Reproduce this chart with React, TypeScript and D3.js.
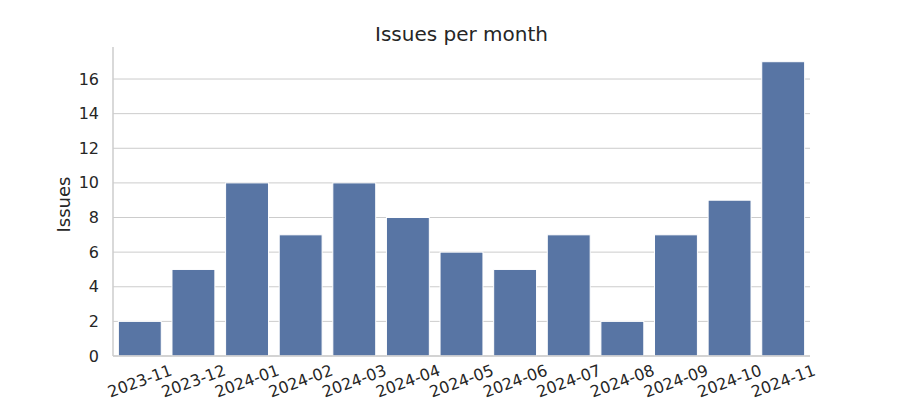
import React from "react";
import * as d3 from "d3";

const months = ["2023-11","2023-12","2024-01","2024-02","2024-03","2024-04","2024-05","2024-06","2024-07","2024-08","2024-09","2024-10","2024-11"];
const issues = [2,5,10,7,10,8,6,5,7,2,7,9,17];
const yTicks = [0,2,4,6,8,10,12,14,16];

const W = 900, H = 400;
const M = { left: 113, right: 810, top: 47, bottom: 356 };
const FONT = "DejaVu Sans, sans-serif";
const TXT = "#262626";

export default function App() {
  const x = d3.scaleBand<string>().domain(months).range([M.left, M.right]).paddingInner(0.2).paddingOuter(0.1);
  const y = d3.scaleLinear().domain([0, 17 * 1.05]).range([M.bottom, M.top]);
  return (
    <svg width={W} height={H} style={{ position: "absolute", left: 0, top: 0, background: "#fff" }} fontFamily={FONT}>
      {yTicks.map(t => (
        <g key={t}>
          <line x1={M.left} x2={M.right} y1={y(t)} y2={y(t)} stroke="#cccccc" strokeWidth={1} />
          <text x={M.left - 14} y={y(t)} dy="0.35em" textAnchor="end" fontSize={16} fill={TXT}>{t}</text>
        </g>
      ))}
      {months.map((m, i) => (
        <rect key={m} x={x(m)} y={y(issues[i])} width={x.bandwidth()} height={y(0) - y(issues[i])}
          fill="#5875a4" stroke="#ffffff" strokeWidth={1} />
      ))}
      <line x1={M.left} x2={M.left} y1={M.top} y2={M.bottom} stroke="#cccccc" strokeWidth={1.5} />
      <line x1={M.left} x2={M.right} y1={M.bottom} y2={M.bottom} stroke="#cccccc" strokeWidth={1.5} />
      {months.map(m => {
        const cx = x(m)! + x.bandwidth() / 2;
        return (
          <text key={m} transform={`translate(${cx},381) rotate(-20)`} textAnchor="middle" dy="0.35em" fontSize={16} fill={TXT}>{m}</text>
        );
      })}
      <text transform={`translate(64,${(M.top + M.bottom) / 2 + 3}) rotate(-90)`} textAnchor="middle" dy="0.35em" fontSize={18} fill={TXT}>Issues</text>
      <text x={(M.left + M.right) / 2} y={41} textAnchor="middle" fontSize={20} fill={TXT}>Issues per month</text>
    </svg>
  );
}
